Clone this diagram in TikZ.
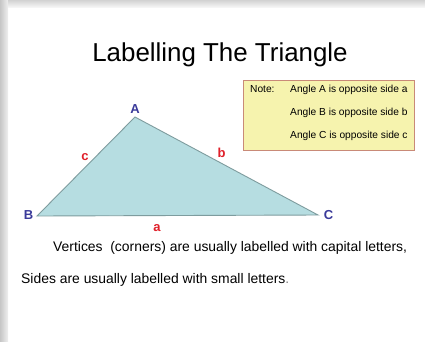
\documentclass[tikz,border=0pt]{standalone}
\usepackage{fontspec}
\setmainfont{Liberation Sans}
\definecolor{trifill}{HTML}{B6DDE1}
\definecolor{tridraw}{HTML}{7E9C9E}
\definecolor{vblue}{HTML}{3A3A9A}
\definecolor{sred}{HTML}{E0202A}
\definecolor{notefill}{HTML}{F6F3AE}
\definecolor{notedraw}{HTML}{C98A78}
\tikzset{
  vlabel/.style={text=vblue,font=\fontsize{13}{15}\selectfont\bfseries,inner sep=0pt},
  slabel/.style={text=sred,font=\fontsize{13}{15}\selectfont\bfseries,inner sep=0pt},
  notetext/.style={font=\fontsize{10.2}{12}\selectfont,anchor=west,inner sep=0pt},
  bodytext/.style={font=\fontsize{13.9}{16}\selectfont,anchor=base west,inner sep=0pt},
}
\begin{document}
\begin{tikzpicture}[x=1pt,y=-1pt]
\useasboundingbox (0,0) rectangle (425,341);
\fill[white] (0,0) rectangle (425,341);
% frame edges
\shade[left color=gray!45,right color=gray!12] (0,0) rectangle (8,341);
\shade[top color=gray!35,bottom color=gray!8] (8,0) rectangle (425,7);
% title
\node[font=\fontsize{25.9}{30}\selectfont,anchor=base,inner sep=0pt] (title) at (220,61) {Labelling The Triangle};
% note box
\node[draw=notedraw,fill=notefill,line width=0.8pt,minimum width=171pt,minimum height=70pt,anchor=north west,inner sep=0pt] (note) at (243,80) {};
\node[notetext] (notelbl) at (250,89.5) {Note:};
\node[notetext] (n1) at (290,89.5) {Angle A is opposite side a};
\node[notetext] (n2) at (290,112.5) {Angle B is opposite side b};
\node[notetext] (n3) at (290,136) {Angle C is opposite side c};
% triangle
\coordinate (A) at (135,117);
\coordinate (B) at (37,216);
\coordinate (C) at (318,215);
\draw[fill=trifill,draw=tridraw,line width=0.9pt,line join=miter] (A) -- (B) -- (C) -- cycle;
\node[vlabel] (la) at (135,109.5) {A};
\node[vlabel] (lb) at (28.5,215.5) {B};
\node[vlabel] (lc) at (328.5,215) {C};
\node[slabel] (sc) at (85,157) {c};
\node[slabel] (sb) at (221.5,152.5) {b};
\node[slabel] (sa) at (157,228) {a};
% body text
\node[bodytext] (t1) at (53,251.5) {Vertices\ \ (corners) are usually labelled with capital letters,};
\node[bodytext] (t2) at (21,283) {Sides are usually labelled with small letters{\color{gray}.}};
\end{tikzpicture}
\end{document}
